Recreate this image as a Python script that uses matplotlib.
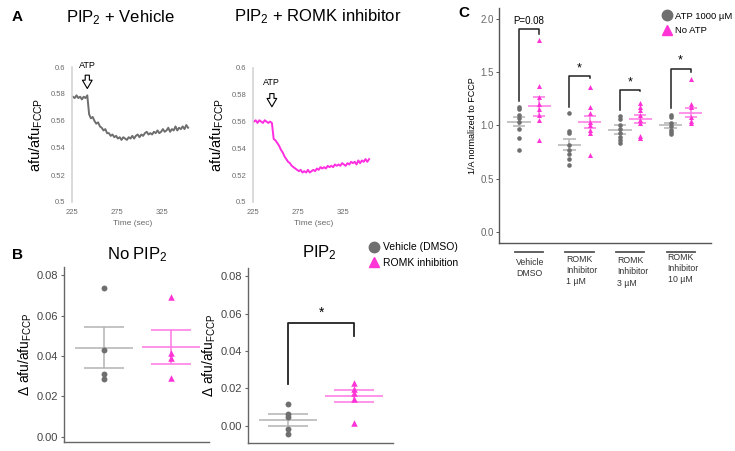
import matplotlib
matplotlib.use('Agg')
import matplotlib.pyplot as plt
import numpy as np
from matplotlib.lines import Line2D

plt.rcParams['font.family'] = ['Liberation Sans', 'DejaVu Sans']
plt.rcParams['mathtext.fontset'] = 'custom'
plt.rcParams['mathtext.rm'] = 'Liberation Sans'
plt.rcParams['mathtext.it'] = 'Liberation Sans'

W, H = 735, 451
GRAY_PT = '#6f6f6f'
GRAY_LN = '#b3b3b3'
PINK_PT = '#ff33d6'
PINK_LN = '#ff77e4'
TRACE_GRAY = '#6e6e6e'
TRACE_PINK = '#ff2ee0'

# ---------------- data ----------------
# Panel A traces (time in sec, sampled every 2 s)
trace_time = np.arange(226, 356, 2)
vehicle_trace = [
    0.578, 0.577, 0.579, 0.577, 0.578, 0.576, 0.578, 0.577,
    0.579, 0.565, 0.562, 0.563, 0.560, 0.558, 0.559, 0.556,
    0.555, 0.553, 0.554, 0.551, 0.551, 0.549, 0.550, 0.548,
    0.549, 0.547, 0.548, 0.546, 0.548, 0.547, 0.546, 0.548,
    0.547, 0.549, 0.547, 0.549, 0.550, 0.548, 0.550, 0.549,
    0.551, 0.552, 0.550, 0.551, 0.550, 0.552, 0.551, 0.553,
    0.551, 0.552, 0.554, 0.552, 0.553, 0.555, 0.552, 0.554,
    0.553, 0.556, 0.553, 0.555, 0.554, 0.556, 0.554, 0.557,
    0.555,
]
romk_trace = [
    0.560, 0.561, 0.559, 0.561, 0.560, 0.559, 0.561, 0.560,
    0.559, 0.560, 0.559, 0.547, 0.546, 0.544, 0.542, 0.539,
    0.537, 0.534, 0.532, 0.530, 0.529, 0.527, 0.526, 0.525,
    0.524, 0.523, 0.524, 0.522, 0.523, 0.522, 0.524, 0.522,
    0.523, 0.524, 0.523, 0.525, 0.524, 0.526, 0.525, 0.526,
    0.525, 0.527, 0.526, 0.527, 0.526, 0.528, 0.527, 0.528,
    0.527, 0.529, 0.528, 0.527, 0.529, 0.528, 0.530, 0.529,
    0.530, 0.528, 0.531, 0.529, 0.531, 0.530, 0.532, 0.530,
    0.532,
]
atp_time_vehicle = 242
atp_time_romk = 246

# Panel B: delta afu/afu_FCCP
b_groups = ['Vehicle (DMSO)', 'ROMK inhibition']
nopip_vehicle = [0.0735, 0.0432, 0.0310, 0.0285]
nopip_romk = [0.0690, 0.0415, 0.0390, 0.0290]
nopip_mean = [0.0442, 0.0445]
nopip_sem = [0.0103, 0.0085]
pip_vehicle = [0.0117, 0.0064, 0.0048, -0.0016, -0.0043]
pip_romk = [0.0229, 0.0197, 0.0176, 0.0144, 0.0016]
pip_mean = [0.0032, 0.0160]
pip_sem = [0.0032, 0.0032]

# Panel C: 1/A normalized to FCCP
c_categories = ['Vehicle\nDMSO', 'ROMK\nInhibitor\n1 \u00b5M',
                'ROMK\nInhibitor\n3 \u00b5M', 'ROMK\nInhibitor\n10 \u00b5M']
c_atp = [
    [1.17, 1.15, 1.10, 1.07, 1.03, 0.97, 0.88, 0.77],
    [1.12, 0.95, 0.93, 0.82, 0.77, 0.73, 0.68, 0.63],
    [1.09, 1.06, 1.00, 0.97, 0.93, 0.89, 0.86, 0.83],
    [1.10, 1.08, 1.02, 0.99, 0.96, 0.94, 0.92],
]
c_noatp = [
    [1.80, 1.37, 1.27, 1.20, 1.15, 1.10, 1.05, 0.86],
    [1.36, 1.17, 1.12, 1.03, 1.00, 0.96, 0.93, 0.72],
    [1.21, 1.17, 1.14, 1.10, 1.05, 1.02, 0.90, 0.88],
    [1.43, 1.20, 1.17, 1.08, 1.04, 1.02],
]
c_atp_mean = [1.035, 0.82, 0.96, 1.00]
c_atp_sem = [0.045, 0.05, 0.04, 0.022]
c_noatp_mean = [1.18, 1.03, 1.06, 1.12]
c_noatp_sem = [0.09, 0.055, 0.04, 0.04]
c_sig = ['P=0.08', '*', '*', '*']
c_brk_left = [1.23, 1.17, 1.14, 1.16]
c_brk_top = [1.90, 1.46, 1.33, 1.53]
c_brk_right = [1.86, 1.44, 1.32, 1.50]

fig = plt.figure(figsize=(W / 100, H / 100), dpi=100)


def px_axes(x0, y0, x1, y1):
    return fig.add_axes([x0 / W, 1 - y1 / H, (x1 - x0) / W, (y1 - y0) / H])


def ftext(x, y, s, **kw):
    fig.text(x / W, 1 - y / H, s, **kw)


# ---------------- Panel A ----------------
def trace_panel(ax, values, color, atp_t, arrow_top, arrow_tip, label_y):
    ax.plot(trace_time, values, color=color, lw=1.4)
    ax.set_xlim(225, 360)
    ax.set_ylim(0.5, 0.6)
    ax.set_yticks([0.5, 0.52, 0.54, 0.56, 0.58, 0.6])
    ax.set_yticklabels(['0.5', '0.52', '0.54', '0.56', '0.58', '0.6'])
    ax.set_xticks([225, 275, 325])
    for s in ['top', 'right', 'bottom']:
        ax.spines[s].set_visible(False)
    ax.spines['left'].set_color('#d4d4d4')
    ax.spines['left'].set_linewidth(1.2)
    ax.tick_params(length=0, labelsize=5.5, labelcolor='#6a6a6a', pad=5)
    ax.set_xlabel('Time (sec)', fontsize=6, color='#6a6a6a', labelpad=3)
    ax.set_ylabel('afu/afu$_{\\mathregular{FCCP}}$', fontsize=10.5, labelpad=4)
    ax.annotate('', xy=(atp_t, arrow_tip), xytext=(atp_t, arrow_top),
                arrowprops=dict(arrowstyle='simple,head_width=0.7,head_length=0.6,tail_width=0.3',
                                fc='white', ec='black', lw=0.8), annotation_clip=False)
    ax.text(atp_t, label_y, 'ATP', ha='center', va='bottom', fontsize=6.5, clip_on=False)


axA1 = px_axes(72, 67, 193.5, 202)
trace_panel(axA1, vehicle_trace, TRACE_GRAY, atp_time_vehicle, 0.596, 0.582, 0.598)
axA2 = px_axes(253, 68, 374.5, 202)
trace_panel(axA2, romk_trace, TRACE_PINK, atp_time_romk, 0.583, 0.569, 0.586)

ftext(12, 17, 'A', fontsize=11, fontweight='bold', va='center')
ftext(120, 18, 'PIP$_{\\mathregular{2}}$ + Vehicle', fontsize=12, ha='center', va='center')
ftext(318, 17, 'PIP$_{\\mathregular{2}}$ + ROMK inhibitor', fontsize=12, ha='center', va='center')


# ---------------- Panel B ----------------
def scatter_panel(ax, veh, romk, mean, sem):
    ax.scatter(np.full(len(veh), 1), veh, s=18, color=GRAY_PT, marker='o', zorder=3, lw=0)
    ax.scatter(np.full(len(romk), 2), romk, s=22, color=PINK_PT, marker='^', zorder=3, lw=0)
    for xpos, m, e, c in zip([1, 2], mean, sem, [GRAY_LN, PINK_LN]):
        ax.hlines(m, xpos - 0.44, xpos + 0.44, color=c, lw=1.1, zorder=2)
        ax.hlines([m - e, m + e], xpos - 0.3, xpos + 0.3, color=c, lw=1.1, zorder=2)
        ax.vlines(xpos, m - e, m + e, color=c, lw=1.1, zorder=2)
    ax.set_xticks([])
    ax.set_yticks([0.0, 0.02, 0.04, 0.06, 0.08])
    ax.set_yticklabels(['0.00', '0.02', '0.04', '0.06', '0.08'])
    for s in ['top', 'right']:
        ax.spines[s].set_visible(False)
    for s in ['left', 'bottom']:
        ax.spines[s].set_color('#666666')
        ax.spines[s].set_linewidth(1.0)
    ax.tick_params(axis='y', length=2.5, width=0.8, color='#666666',
                   labelsize=8, labelcolor='#444444', pad=1.5)
    ax.set_ylabel('\u0394 afu/afu$_{\\mathregular{FCCP}}$', fontsize=10, labelpad=2)


axB1 = px_axes(64, 267, 209, 442)
scatter_panel(axB1, nopip_vehicle, nopip_romk, nopip_mean, nopip_sem)
axB1.set_xlim(0.403, 2.567)
axB1.set_ylim(-0.0025, 0.084)

axB2 = px_axes(248, 268, 393, 443)
scatter_panel(axB2, pip_vehicle, pip_romk, pip_mean, pip_sem)
axB2.set_xlim(0.394, 2.59)
axB2.set_ylim(-0.0091, 0.0843)
axB2.plot([1, 1, 2, 2], [0.0224, 0.055, 0.055, 0.048], color='#222222', lw=1.3)
axB2.text(1.5, 0.0565, '*', ha='center', va='bottom', fontsize=10)

ftext(12, 255, 'B', fontsize=11, fontweight='bold', va='center')
ftext(137, 255, 'No PIP$_{\\mathregular{2}}$', fontsize=12, ha='center', va='center')
ftext(319, 253, 'PIP$_{\\mathregular{2}}$', fontsize=12, ha='center', va='center')

b_handles = [Line2D([], [], marker='o', ls='', color=GRAY_PT, markersize=7.5),
             Line2D([], [], marker='^', ls='', color=PINK_PT, markersize=7.5)]
fig.legend(b_handles, b_groups, loc='upper left', bbox_to_anchor=(363 / W, 1 - 237 / H),
           frameon=False, fontsize=7.5, handletextpad=0.2, labelspacing=0.55,
           borderpad=0, handlelength=1.2)

# ---------------- Panel C ----------------
axC = px_axes(499, 8, 711, 243)
xc = np.arange(1, len(c_categories) + 1)
for i, (a, n) in enumerate(zip(c_atp, c_noatp)):
    axC.scatter(np.full(len(a), xc[i] - 0.2), a, s=11, color=GRAY_PT, marker='o', lw=0, zorder=3)
    axC.scatter(np.full(len(n), xc[i] + 0.2), n, s=13, color=PINK_PT, marker='^', lw=0, zorder=3)
for off, means, sems, c in [(-0.2, c_atp_mean, c_atp_sem, GRAY_LN),
                            (0.2, c_noatp_mean, c_noatp_sem, PINK_LN)]:
    for xi, m, e in zip(xc + off, means, sems):
        axC.hlines(m, xi - 0.23, xi + 0.23, color=c, lw=1.1, zorder=2)
        axC.hlines([m - e, m + e], xi - 0.12, xi + 0.12, color=c, lw=1.1, zorder=2)
        axC.vlines(xi, m - e, m + e, color=c, lw=1.1, zorder=2)
for xi, lab, l, t, r in zip(xc, c_sig, c_brk_left, c_brk_top, c_brk_right):
    axC.plot([xi - 0.2, xi - 0.2, xi + 0.2, xi + 0.2], [l, t, t, r], color='#222222', lw=1.1)
    if lab == '*':
        axC.text(xi, t + 0.02, lab, ha='center', va='bottom', fontsize=9)
    else:
        axC.text(xi, t + 0.03, lab, ha='center', va='bottom', fontsize=7)

axC.set_xlim(0.406, 4.6)
axC.set_ylim(-0.103, 2.10)
axC.set_xticks([])
axC.set_yticks([0.0, 0.5, 1.0, 1.5, 2.0])
axC.set_yticklabels(['0.0', '0.5', '1.0', '1.5', '2.0'])
for s in ['top', 'right']:
    axC.spines[s].set_visible(False)
for s in ['left', 'bottom']:
    axC.spines[s].set_color('#555555')
    axC.spines[s].set_linewidth(1.0)
axC.tick_params(axis='y', length=2, width=0.7, color='#555555',
                labelsize=7, labelcolor='#666666', pad=1.5)
axC.set_ylabel('1/A normalized to FCCP', fontsize=6.5, labelpad=3)

trans = axC.get_xaxis_transform()
label_top = [-0.062, -0.049, -0.057, -0.043]
for xi, lab, yt in zip(xc, c_categories, label_top):
    axC.plot([xi - 0.28, xi + 0.28], [-0.04, -0.04], transform=trans, color='#555555',
             lw=1.3, clip_on=False)
    axC.text(xi - 0.26, yt, lab, transform=trans, ha='left', va='top', fontsize=6.3,
             color='#333333', linespacing=1.3, clip_on=False)

c_handles = [Line2D([], [], marker='o', ls='', color=GRAY_PT, markersize=7.5),
             Line2D([], [], marker='^', ls='', color=PINK_PT, markersize=7.5)]
fig.legend(c_handles, ['ATP 1000 \u00b5M', 'No ATP'], loc='upper left',
           bbox_to_anchor=(657 / W, 1 - 7 / H), frameon=False, fontsize=6.8,
           handletextpad=0.2, labelspacing=0.6, borderpad=0, handlelength=1.2)

ftext(458, 13, 'C', fontsize=11, fontweight='bold', va='center')

fig.savefig('out.png', dpi=100)
